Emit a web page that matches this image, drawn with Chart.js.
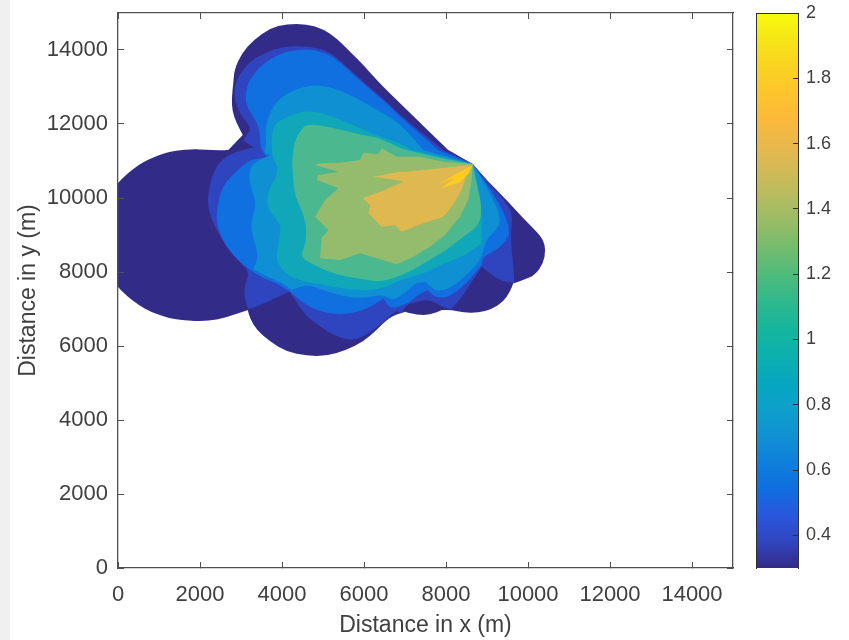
<!DOCTYPE html>
<html>
<head>
<meta charset="utf-8">
<script src="https://cdn.jsdelivr.net/npm/chart.js@4"></script>
<style>
html,body{margin:0;padding:0;background:#fff;width:849px;height:640px;overflow:hidden}
#strip{position:absolute;left:0;top:0;width:10px;height:640px;background:#f0f0f0}
#main{position:absolute;left:0;top:0}
#bar{position:absolute;left:740px;top:0}
</style>
</head>
<body>
<div id="strip"></div>
<canvas id="main" width="849" height="640"></canvas>
<canvas id="bar" width="109" height="640"></canvas>
<script>
const xTicks=[0,2000,4000,6000,8000,10000,12000,14000];
const yTicks=[0,2000,4000,6000,8000,10000,12000,14000];
const colorbarTicks=[0.4,0.6,0.8,1,1.2,1.4,1.6,1.8,2];
const colorbarRange=[0.3,2];
const xTitle='Distance in x (m)';
const yTitle='Distance in y (m)';
const parulaStops=['#352a87','#3145bf','#2a57dd','#0f6fe0','#0e7fdb','#1191d3','#0d9fcb','#06a7c0','#0bb0ae','#15b59e','#2cb88e','#4bbb7d','#6fbc6f','#94bc66','#b4bc60','#d0ba57','#e8b84d','#fbb93a','#fdc52c','#f9d321','#f5e516','#f9fb0e'];

const levelColors=['#332b88','#2f45bf','#1070e0','#0e90d2','#10a8b8','#4cb890','#95bb6d','#e0b850','#fdcb20'];
const levelRounded=[true,true,true,true,true,true,false,false,false];
const level1=[[3041,11704],[3041,11704],[2894,12019],[2789,12334],[2772,12695],[2813,13100],[2837,13461],[3016,13911],[3301,14271],[3707,14587],[4114,14704],[4602,14704],[5008,14560],[5333,14316],[5659,13956],[5984,13596],[6309,13190],[6634,12830],[6878,12560],[8057,11298],[8057,11298],[8650,10920],[8650,10920],[9073,10397],[9073,10397],[9479,9947],[9886,9451],[10211,9091],[10374,8865],[10431,8595],[10374,8235],[10170,7919],[9886,7784],[9642,7694],[9642,7694],[9561,7469],[9398,7198],[9114,6991],[8788,6901],[8423,6901],[8138,6973],[7894,6973],[7894,6973],[7610,6838],[7284,6838],[7000,6928],[7000,6928],[6634,6793],[6309,6433],[5984,6117],[5577,5892],[5089,5730],[4602,5730],[4114,5847],[3707,6117],[3382,6433],[3220,6748],[3163,6973],[3163,6973],[2813,6838],[2407,6703],[2000,6680],[1850,6675],[1400,6719],[1100,6799],[800,6926],[500,7107],[200,7362],[0,7592],[0,7592],[0,10408],[0,10408],[200,10638],[500,10893],[800,11074],[1100,11201],[1400,11281],[1850,11325],[2000,11310],[2610,11290],[2691,11298],[2691,11298]];
const level2=[[3260,11884],[3016,12199],[2854,12605],[2837,13010],[2976,13370],[3220,13686],[3626,13956],[4033,14091],[4439,14109],[4846,14073],[5211,13911],[5577,13551],[6065,13055],[6553,12605],[6878,12244],[7935,11298],[7935,11298],[8650,10920],[8650,10920],[9154,10262],[9520,9811],[9626,9496],[9577,9046],[9601,8595],[9642,8190],[9666,7712],[9666,7712],[9398,7730],[9114,7919],[8870,8145],[8870,8145],[8707,7874],[8504,7514],[8301,7198],[8114,6991],[8114,6991],[7894,7063],[7610,7262],[7284,7198],[7024,7108],[6918,6883],[6918,6883],[6797,6973],[6431,6613],[6065,6297],[5740,6144],[5333,6252],[4927,6523],[4561,6838],[4317,7243],[4179,7469],[4179,7469],[3829,7289],[3463,7108],[3179,7000],[3179,7000],[3073,7334],[3098,7694],[3220,8009],[2813,8415],[2488,8955],[2285,9406],[2179,9811],[2228,10397],[2407,10893],[2691,11163],[2976,11280],[3317,11370],[3317,11370],[3057,11550],[3057,11550],[3138,11704]];
const level3=[[4439,14019],[4846,13999],[5252,13821],[5577,13506],[6065,13010],[6553,12560],[6878,12199],[7813,11298],[7813,11298],[8650,10920],[8650,10920],[9154,10127],[9414,9586],[9544,9226],[9520,8910],[9236,8595],[8910,8415],[8870,8190],[8870,8190],[8504,7694],[8097,7334],[7772,7289],[7553,7514],[7553,7514],[7366,7424],[7081,7153],[6837,7063],[6634,7018],[6472,7289],[6472,7289],[6309,7153],[5902,6928],[5415,6838],[4927,6928],[4520,7153],[4195,7469],[4195,7469],[3870,7694],[3545,7829],[3179,8072],[2894,8370],[2610,8730],[2407,9271],[2407,9721],[2528,10262],[2813,10667],[3220,11028],[3301,11028],[3626,11118],[3626,11118],[3463,11343],[3463,11929],[3138,12469],[3098,12830],[3220,13235],[3504,13596],[3951,13911]];
const level4=[[3667,12199],[3829,12560],[4114,12830],[4520,13010],[4927,13055],[5415,12920],[5902,12650],[6390,12334],[6878,12019],[7447,11298],[7447,11298],[8650,10920],[8650,10920],[8992,10307],[9236,9766],[9333,9406],[9236,9136],[8992,8910],[8870,8415],[8748,8190],[8423,7829],[8016,7514],[7731,7496],[7488,7739],[7488,7739],[7244,7694],[7000,7424],[6715,7243],[6553,7334],[6390,7379],[5984,7289],[5496,7334],[5008,7514],[4602,7667],[4236,7514],[4236,7514],[3951,7739],[3626,7874],[3301,8072],[3301,8072],[3423,8415],[3341,8775],[3220,9271],[3382,9811],[3260,10217],[3179,10577],[3260,10938],[3748,11163],[3748,11163],[3545,11208],[3626,11433],[3585,11839]];
const level5=[[3748,11704],[3829,12019],[4195,12244],[4683,12379],[5252,12199],[5821,11929],[6390,11658],[6878,11478],[7162,11298],[7162,11298],[8650,10920],[8650,10920],[8870,9856],[8870,8775],[8870,8775],[8423,8415],[7935,8235],[7488,7964],[7040,7829],[6796,7739],[6390,7514],[5659,7514],[4846,7694],[4358,7784],[4033,8009],[3854,8325],[3911,8775],[3992,9271],[3789,9496],[3626,9811],[3667,10217],[3951,10757],[3748,11118]];
const level6=[[4317,11568],[4439,11794],[4602,12019],[5333,11884],[5902,11704],[6350,11640],[6878,11343],[7203,11253],[8016,11046],[8016,11046],[8650,10920],[8650,10920],[8748,10397],[8870,9811],[8829,9271],[8423,8955],[8016,8595],[7528,8280],[7203,8054],[6715,7829],[6390,7739],[6065,7784],[5577,7874],[5252,7964],[4764,8190],[4439,8415],[4561,8685],[4602,9226],[4480,9676],[4317,10037],[4276,10487],[4236,11028]];
const level7=[[8650,10920],[8626,10487],[8544,9946],[8341,9496],[7975,9000],[7610,8685],[7203,8415],[6797,8208],[6309,8370],[5902,8505],[5415,8325],[4927,8370],[4967,8910],[5130,9136],[4805,9496],[5049,9946],[5374,10262],[4846,10487],[4886,10622],[5374,10712],[4805,10893],[4927,10938],[5415,10956],[5902,11028],[5984,11226],[6350,11190],[6431,11343],[6797,11118],[7366,11118],[7935,10983]];
const level8=[[6228,10577],[6878,10712],[7040,10712],[7853,10802],[8585,10893],[8544,10757],[8382,10217],[8138,9766],[7935,9496],[7447,9316],[6918,9091],[6756,9271],[6431,9226],[6309,9361],[6106,9586],[6146,9811],[5967,9991],[6390,10172],[6878,10397],[6959,10442],[6700,10500]];
const level9=[[8650,10884],[8341,10712],[7853,10397],[8219,10532],[7853,10244],[8341,10424],[8544,10649]];
const levels=[level1,level2,level3,level4,level5,level6,level7,level8,level9];

const axisColor='#505050';
const tickColor='#404040';

function noPadding(s){s.paddingTop=0;s.paddingBottom=0;s.paddingLeft=0;s.paddingRight=0;}
function fixedTicks(list){return function(scale){scale.ticks=list.map(function(v){return {value:v};});};}
function fixedWidth(w){return function(scale){scale.width=w;noPadding(scale);};}
function fixedHeight(h){return function(scale){scale.height=h;noPadding(scale);};}

const polygonPlugin={
  id:'polygonFill',
  beforeDatasetsDraw:function(chart){
    const ctx=chart.ctx,a=chart.chartArea;
    ctx.save();
    ctx.beginPath();ctx.rect(a.left,a.top,a.right-a.left,a.bottom-a.top);ctx.clip();
    chart.data.datasets.forEach(function(ds,i){
      const pts=chart.getDatasetMeta(i).data,n=pts.length;
      ctx.beginPath();
      if(levelRounded[i]){
        const last=pts[n-1];
        ctx.moveTo((last.x+pts[0].x)/2,(last.y+pts[0].y)/2);
        pts.forEach(function(p,k){
          const q=pts[(k+1)%n];
          ctx.quadraticCurveTo(p.x,p.y,(p.x+q.x)/2,(p.y+q.y)/2);
        });
      }else{
        pts.forEach(function(p,k){if(k===0)ctx.moveTo(p.x,p.y);else ctx.lineTo(p.x,p.y);});
      }
      ctx.closePath();
      ctx.fillStyle=ds.backgroundColor;
      ctx.fill();
    });
    ctx.restore();
  }
};

const labelFont='"Liberation Sans",Arial,sans-serif';
const mainGrid={drawOnChartArea:false,tickLength:-6,color:axisColor,z:2};
const mainBorder={display:true,color:axisColor,width:1.3,z:2};
const barBorder={display:true,color:'#303030',width:1,z:2};

function sideAxis(position,axis,list){
  return {
    type:'linear',position:position,axis:axis,min:0,max:15000,
    afterBuildTicks:fixedTicks(list),
    afterFit:axis==='x'?fixedHeight(0):fixedWidth(0),
    ticks:{display:false},grid:mainGrid,border:mainBorder
  };
}

new Chart(document.getElementById('main'),{
  type:'scatter',
  data:{datasets:levels.map(function(poly,i){
    return {
      label:'level '+(i+1),
      data:poly.map(function(p){return {x:p[0],y:p[1]};}),
      backgroundColor:levelColors[i],
      showLine:false,pointRadius:0,pointHoverRadius:0
    };
  })},
  plugins:[polygonPlugin],
  options:{
    responsive:false,animation:false,
    layout:{padding:{left:0,right:116,top:13,bottom:0}},
    plugins:{legend:{display:false},tooltip:{enabled:false}},
    scales:{
      x:{type:'linear',position:'bottom',min:0,max:15000,
        afterBuildTicks:fixedTicks(xTicks),afterFit:fixedHeight(72),
        title:{display:true,text:xTitle,color:tickColor,font:{family:labelFont,size:23},padding:{top:0,bottom:1}},
        ticks:{color:tickColor,font:{family:labelFont,size:22},padding:20,maxRotation:0,autoSkip:false,callback:function(v){return String(v);}},
        grid:mainGrid,border:mainBorder},
      y:{type:'linear',position:'left',min:0,max:15000,
        afterBuildTicks:fixedTicks(yTicks),afterFit:fixedWidth(118),
        title:{display:true,text:yTitle,color:tickColor,font:{family:labelFont,size:23},padding:{top:15,bottom:0}},
        ticks:{color:tickColor,font:{family:labelFont,size:22},padding:16,autoSkip:false,callback:function(v){return String(v);}},
        grid:mainGrid,border:mainBorder},
      xTop:sideAxis('top','x',xTicks),
      yRight:sideAxis('right','y',yTicks)
    }
  }
});

new Chart(document.getElementById('bar'),{
  type:'bar',
  data:{labels:['c'],datasets:[{
    data:[colorbarRange],
    barPercentage:1,categoryPercentage:1,borderWidth:0,
    backgroundColor:function(c){
      const a=c.chart.chartArea;
      if(!a)return parulaStops[0];
      const g=c.chart.ctx.createLinearGradient(0,a.bottom,0,a.top);
      parulaStops.forEach(function(col,i){g.addColorStop(i/(parulaStops.length-1),col);});
      return g;
    }
  }]},
  options:{
    responsive:false,animation:false,
    layout:{padding:{left:16,right:0,top:13,bottom:72}},
    plugins:{legend:{display:false},tooltip:{enabled:false}},
    scales:{
      x:{position:'bottom',afterFit:fixedHeight(0),ticks:{display:false},grid:{display:false},border:{display:false}},
      y:{type:'linear',position:'right',min:colorbarRange[0],max:colorbarRange[1],
        afterBuildTicks:fixedTicks(colorbarTicks),afterFit:fixedWidth(51),
        ticks:{color:tickColor,font:{family:labelFont,size:18},padding:13,autoSkip:false,callback:function(v){return String(Math.round(v*10)/10);}},
        grid:{drawOnChartArea:false,tickLength:-5,color:'#303030',z:2},
        border:barBorder},
      yLeft:{type:'linear',position:'left',min:colorbarRange[0],max:colorbarRange[1],
        afterFit:fixedWidth(0),ticks:{display:false},grid:{display:false},border:barBorder},
      xTop:{position:'top',afterFit:fixedHeight(0),ticks:{display:false},grid:{display:false},border:barBorder}
    }
  }
});
</script>
</body>
</html>
